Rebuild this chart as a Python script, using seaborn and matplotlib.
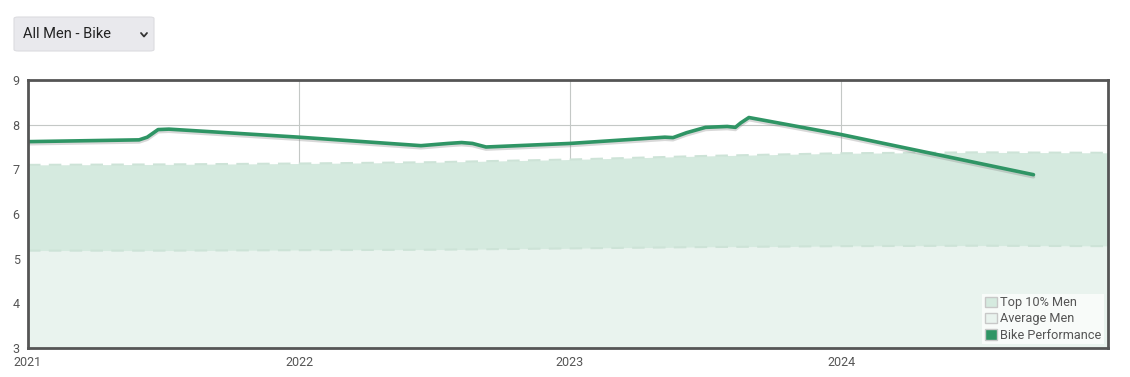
import numpy as np
import pandas as pd
import matplotlib
matplotlib.use("Agg")
import matplotlib.pyplot as plt
import matplotlib.patheffects as pe
from matplotlib.patches import FancyBboxPatch, Patch
from matplotlib.lines import Line2D
import seaborn as sns

# Bike performance (decimal years, score)
perf_x = [2021.0, 2021.41, 2021.44, 2021.48, 2021.52, 2022.0, 2022.45, 2022.55, 2022.6,
          2022.64, 2022.69, 2023.0, 2023.35, 2023.38, 2023.43, 2023.5, 2023.58, 2023.61,
          2023.63, 2023.66, 2024.0, 2024.71]
perf_y = [7.62, 7.66, 7.72, 7.89, 7.90, 7.72, 7.53, 7.58, 7.60, 7.58, 7.50, 7.58, 7.72,
          7.71, 7.82, 7.94, 7.96, 7.94, 8.04, 8.16, 7.78, 6.88]

# Bands
band_x = [2021.0, 2021.5, 2022.0, 2022.5, 2023.0, 2023.5, 2024.0, 2024.5, 2024.99]
top10_y = [7.10, 7.11, 7.13, 7.16, 7.22, 7.30, 7.36, 7.38, 7.37]
avg_y = [5.18, 5.18, 5.19, 5.20, 5.23, 5.26, 5.28, 5.29, 5.28]

year_ticks = [2021, 2022, 2023, 2024]
y_ticks = [3, 4, 5, 6, 7, 8, 9]

green = "#2f9565"
top_fill = "#d5eadf"
avg_fill = "#e9f3ee"
dash_col = "#cde3d7"

sns.set_style("white")
plt.rcParams["font.family"] = ["Roboto", "DejaVu Sans"]

fig = plt.figure(figsize=(11.3, 3.77), dpi=100)
ax = fig.add_axes([28 / 1130, 1 - 348 / 377, 1080 / 1130, 268 / 377])

band_df = pd.DataFrame({"x": band_x, "top": top10_y, "avg": avg_y})
ax.fill_between(band_df["x"], 3, band_df["avg"], color=avg_fill, lw=0, zorder=1)
ax.fill_between(band_df["x"], band_df["avg"], band_df["top"], color=top_fill, lw=0, zorder=1)
ax.plot(band_df["x"], band_df["top"], color=dash_col, lw=1.5, ls=(0, (6, 4)), zorder=2)
ax.plot(band_df["x"], band_df["avg"], color=dash_col, lw=1.5, ls=(0, (6, 4)), zorder=2)

perf_df = pd.DataFrame({"x": perf_x, "y": perf_y})
sns.lineplot(data=perf_df, x="x", y="y", ax=ax, color=green, lw=2.6, zorder=4,
             path_effects=[pe.SimpleLineShadow(offset=(0, -1.5), shadow_color="gray", alpha=0.3),
                           pe.Normal()])

ax.set_xlim(2021, 2024.985)
ax.set_ylim(3, 9)
ax.set_xticks(year_ticks)
ax.set_xticklabels([str(y) for y in year_ticks])
ax.set_yticks(y_ticks)
ax.set_xlabel("")
ax.set_ylabel("")
ax.grid(True, color="#c4c8c6", lw=0.8, zorder=0)
for gl in ax.get_xgridlines() + ax.get_ygridlines():
    gl.set_zorder(1.5)
ax.tick_params(axis="both", length=0, labelsize=9, labelcolor="#555555")
ax.tick_params(axis="y", pad=6)
ax.tick_params(axis="x", pad=6)
for s in ax.spines.values():
    s.set_color("#555555")
    s.set_linewidth(2)
    s.set_zorder(6)

handles = [Patch(facecolor=top_fill, edgecolor="#c8c8c8", label="Top 10% Men"),
           Patch(facecolor=avg_fill, edgecolor="#c8c8c8", label="Average Men"),
           Patch(facecolor=green, edgecolor="#c8c8c8", label="Bike Performance")]
leg = ax.legend(handles=handles, loc="lower right", fontsize=9.2, frameon=True,
                handlelength=0.9, handleheight=0.9, handletextpad=0.3,
                labelspacing=0.25, borderpad=0.2, borderaxespad=0.3, fancybox=False)
leg.get_frame().set_facecolor("white")
leg.get_frame().set_alpha(0.7)
leg.get_frame().set_linewidth(0)
for t in leg.get_texts():
    t.set_color("#555555")

# dropdown selector
box = FancyBboxPatch((14 / 1130, 1 - 51 / 377), 140 / 1130, 34 / 377,
                     boxstyle="round,pad=0,rounding_size=0.004", transform=fig.transFigure,
                     facecolor="#e9e9ed", edgecolor="#dcdce0", lw=0.8)
fig.patches.append(box)
fig.text(23 / 1130, 1 - 34 / 377, "All Men - Bike", fontsize=10.5, color="#222222",
         va="center", ha="left")
fig.lines.append(Line2D([141 / 1130, 144 / 1130, 147 / 1130],
                        [1 - 33 / 377, 1 - 36.5 / 377, 1 - 33 / 377],
                        transform=fig.transFigure, color="#333333", lw=1.3))

fig.savefig("out.png", dpi=100)
